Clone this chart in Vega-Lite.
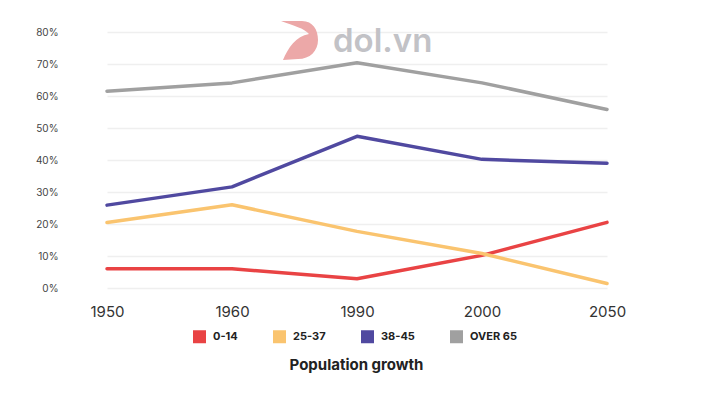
{
  "$schema": "https://vega.github.io/schema/vega-lite/v6.json",
  "width": 603,
  "height": 256,
  "autosize": "none",
  "padding": {"left": 66, "top": 32, "right": 43, "bottom": 113},
  "background": "white",
  "config": {
    "font": "Inter",
    "view": {"stroke": null},
    "axisY": {
      "title": null,
      "domain": false,
      "ticks": false,
      "grid": true,
      "labelOverlap": false,
      "format": ".0%",
      "labelFontSize": 10,
      "labelColor": "#444444",
      "labelFont": "Inter",
      "labelPadding": 8,
      "gridColor": "#EFEFEF",
      "gridWidth": 1.5
    },
    "axisX": {
      "title": null,
      "domain": false,
      "ticks": false,
      "grid": false,
      "labelAngle": 0,
      "labelFontSize": 15,
      "labelColor": "#333333",
      "labelFont": "Inter",
      "labelPadding": 16
    }
  },
  "title": {
    "text": "Population growth",
    "orient": "bottom",
    "anchor": "middle",
    "fontSize": 15,
    "fontWeight": "bold",
    "color": "#222222",
    "font": "Inter",
    "dx": -11,
    "offset": 4
  },
  "encoding": {
    "x": {
      "field": "year",
      "type": "ordinal",
      "scale": {"type": "point", "domain": ["1950", "1960", "1990", "2000", "2050"], "range": [41, 541], "padding": 0},
      "axis": {"title": null}
    },
    "y": {
      "field": "value",
      "type": "quantitative",
      "scale": {"domain": [0, 0.8], "nice": false},
      "axis": {"title": null, "values": [0, 0.1, 0.2, 0.3, 0.4, 0.5, 0.6, 0.7, 0.8], "format": ".0%"}
    }
  },
  "layer": [
    {
      "data": {
        "values": [
          {"year": "1950", "group": "0-14", "value": 0.06},
          {"year": "1960", "group": "0-14", "value": 0.06},
          {"year": "1990", "group": "0-14", "value": 0.029},
          {"year": "2000", "group": "0-14", "value": 0.102},
          {"year": "2050", "group": "0-14", "value": 0.205},
          {"year": "1950", "group": "25-37", "value": 0.205},
          {"year": "1960", "group": "25-37", "value": 0.26},
          {"year": "1990", "group": "25-37", "value": 0.177},
          {"year": "2000", "group": "25-37", "value": 0.108},
          {"year": "2050", "group": "25-37", "value": 0.014},
          {"year": "1950", "group": "38-45", "value": 0.259},
          {"year": "1960", "group": "38-45", "value": 0.316},
          {"year": "1990", "group": "38-45", "value": 0.474},
          {"year": "2000", "group": "38-45", "value": 0.402},
          {"year": "2050", "group": "38-45", "value": 0.39},
          {"year": "1950", "group": "OVER 65", "value": 0.615},
          {"year": "1960", "group": "OVER 65", "value": 0.641},
          {"year": "1990", "group": "OVER 65", "value": 0.704},
          {"year": "2000", "group": "OVER 65", "value": 0.641},
          {"year": "2050", "group": "OVER 65", "value": 0.558}
        ]
      },
      "mark": {"type": "line", "strokeWidth": 3.5, "strokeCap": "round", "strokeJoin": "round"},
      "encoding": {
        "color": {
          "field": "group",
          "type": "nominal",
          "scale": {
            "domain": ["0-14", "25-37", "38-45", "OVER 65"],
            "range": ["#E94344", "#FAC46F", "#5049A0", "#A0A0A0"]
          },
          "legend": {
            "title": null,
            "orient": "none",
            "legendX": 127,
            "legendY": 298,
            "direction": "horizontal",
            "symbolType": "square",
            "symbolSize": 36,
            "symbolStrokeWidth": 7,
            "symbolOpacity": 1,
            "labelFont": "Inter",
            "labelFontSize": 11,
            "labelFontWeight": "bold",
            "labelColor": "#222222",
            "labelOffset": 7,
            "columnPadding": 24
          }
        }
      }
    },
    {
      "data": {"values": [{"logo": "dol.vn", "year": "1990", "value": 0.775}]},
      "mark": {
        "type": "point",
        "shape": "M -0.85 -0.95 L 0.2 -0.95 C 0.75 -0.95 1 -0.5 1 0 C 1 0.55 0.6 0.95 0 0.95 L -0.75 1 C -0.5 0.4 -0.1 -0.2 0.55 -0.3 C 0.3 -0.6 -0.2 -0.7 -0.85 -0.95 Z",
        "filled": true,
        "color": "#ECA8A8",
        "opacity": 1,
        "size": 1600,
        "xOffset": -59
      }
    },
    {
      "data": {"values": [{"logo": "dol.vn", "year": "1990", "value": 0.7375}]},
      "mark": {
        "type": "text",
        "font": "Inter",
        "fontSize": 33,
        "fontWeight": 600,
        "color": "#C2C2C6",
        "align": "left",
        "baseline": "alphabetic",
        "dx": -24
      },
      "encoding": {
        "text": {"field": "logo"}
      }
    }
  ]
}
